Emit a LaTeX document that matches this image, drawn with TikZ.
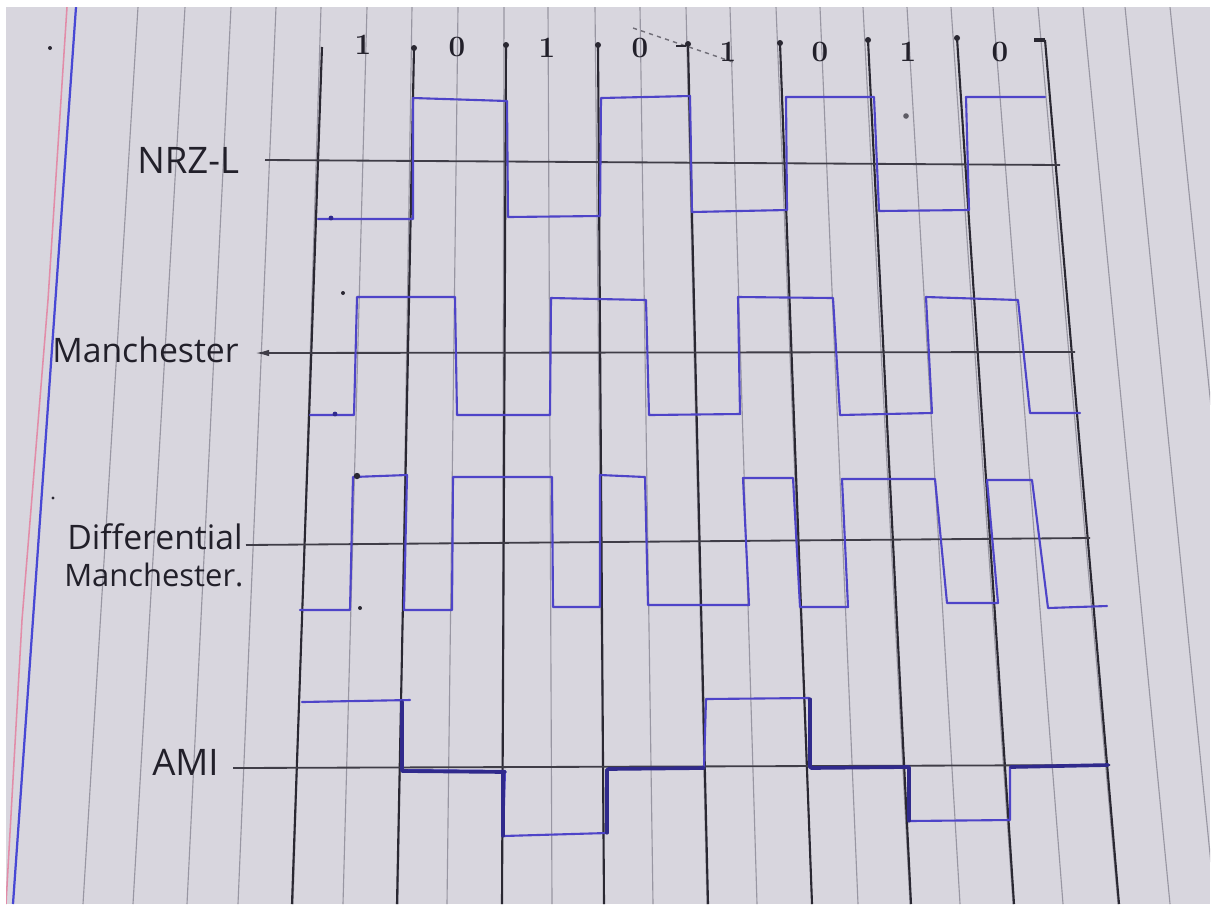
\documentclass[tikz,border=0pt]{standalone}
\usepackage{fontspec}
\newfontfamily\hand{Open Sans}
\usetikzlibrary{arrows.meta}
\definecolor{paper}{RGB}{216,214,222}
\definecolor{ruledcol}{RGB}{152,150,162}
\definecolor{pencil}{RGB}{42,40,50}
\definecolor{ink}{RGB}{78,68,200}
\definecolor{darkink}{RGB}{48,42,140}
\definecolor{marginblue}{RGB}{72,72,212}
\definecolor{marginpink}{RGB}{226,140,168}
\definecolor{textcol}{RGB}{34,32,42}
\tikzset{
  ruled/.style={draw=ruledcol, line width=0.8pt},
  bitline/.style={draw=pencil, line width=1.5pt},
  baseln/.style={draw=pencil!90!white, line width=1.3pt},
  sig/.style={draw=ink, line width=1.5pt, line join=round, line cap=round},
  zeroln/.style={draw=darkink, line width=2.6pt, line cap=round},
  lbl/.style={text=textcol, inner sep=0pt, anchor=west},
  digit/.style={text=textcol, inner sep=0pt, font=\fontsize{21}{23}\selectfont\bfseries},
}
\begin{document}
\begin{tikzpicture}[x=0.025cm,y=-0.025cm]
\useasboundingbox (0,0) rectangle (1214,904);
\fill[white] (0,0) rectangle (1214,904);
\fill[paper] (6,7) rectangle (1210,904);
\begin{scope}
  \clip (6,7) rectangle (1210,904);
  \foreach \a/\b in {138/83,185/133,231/187,276/238,321/293,367/343,412/398,
      458/447,504/502,548/552,595/604,640/653,686/707,730/757,776/812,820/858,
      863/910,907/960,951/1013,993/1063,1038/1118,1083/1170,1125/1215,1170/1262}
    \draw[ruled] (\a,7) -- (\b,904);
  \draw[draw=marginpink, line width=1.1pt] (67,7) -- (48,300) -- (22,620) -- (6,904);
  \draw[draw=marginblue, line width=1.6pt] (76,7) -- (13,904);
\end{scope}

% bit boundary lines
\foreach \i/\tx/\ty/\bx in {0/322/47/292,1/414/48/397,2/506/45/502,3/598/45/604,
    4/688/44/708,5/780/43/812,6/868/40/911,7/957/38/1014,8/1045/40/1119}{
  \coordinate (t\i) at (\tx,\ty);
  \coordinate (b\i) at (\bx,904);
  \draw[bitline] (t\i) -- (b\i);
}
\foreach \i in {1,...,7} \fill[pencil] (t\i) circle (0.075cm);
\coordinate (hook) at (1034,40);
\draw[bitline, line width=2.2pt] (hook) -- (t8);
\coordinate (sm1) at (633,28); \coordinate (sm2) at (736,63);
\draw[pencil!60!paper, dashed, line width=1pt] (sm1) -- (sm2);
\coordinate (sm3) at (676,46); \coordinate (sm4) at (686,46);
\draw[pencil, line width=2pt] (sm3) -- (sm4);

% bit labels
\node[digit] (d1) at (363,45) {1};
\node[digit] (d2) at (457,47) {0};
\node[digit] (d3) at (547,48) {1};
\node[digit] (d4) at (640,48) {0};
\node[digit] (d5) at (728,52) {1};
\node[digit] (d6) at (820,52) {0};
\node[digit] (d7) at (908,52) {1};
\node[digit] (d8) at (1000,52) {0};

% row labels
\node[lbl] (lnrz) at (137,160) {\hand\fontsize{26}{30}\selectfont NRZ-L};
\node[lbl] (lman) at (52,350) {\hand\fontsize{24}{28}\selectfont Manchester};
\node[lbl] (ldif1) at (67,537) {\hand\fontsize{24}{28}\selectfont Differential};
\node[lbl] (ldif2) at (64,575) {\hand\fontsize{22}{26}\selectfont Manchester.};
\node[lbl] (lami) at (152,762) {\hand\fontsize{26}{30}\selectfont AMI};

% zero lines
\coordinate (nrzA) at (265,160); \coordinate (nrzB) at (1060,165);
\coordinate (manA) at (255,353); \coordinate (manB) at (1075,352);
\coordinate (difA) at (246,545); \coordinate (difB) at (1090,538);
\coordinate (amiA) at (233,768); \coordinate (amiB) at (1110,765);
\draw[baseln] (nrzA) -- (nrzB);
\draw[baseln, {Latex[length=3.5mm,width=1.6mm]}-] (manA) -- (manB);
\draw[baseln] (difA) -- (difB);
\draw[baseln] (amiA) -- (amiB);

% NRZ-L
\draw[sig] (318,219) -- (413,219) -- (413,98) -- (507,101) -- (508,217)
  -- (600,216) -- (601,98) -- (690,96) -- (692,212) -- (787,210) -- (786,97)
  -- (874,97) -- (879,211) -- (969,210) -- (966,97) -- (1045,97);

% Manchester
\draw[sig] (310,415) -- (354,415) -- (357,297) -- (455,297) -- (457,415)
  -- (550,415) -- (551,298) -- (646,300) -- (649,415) -- (740,414) -- (738,297)
  -- (833,298) -- (840,415) -- (932,413) -- (926,297) -- (1018,300)
  -- (1030,413) -- (1080,413);

% Differential Manchester
\draw[sig] (300,610) -- (350,610) -- (353,477) -- (407,475) -- (404,610)
  -- (452,610) -- (453,477) -- (552,477) -- (553,607) -- (600,607) -- (600,475)
  -- (645,477) -- (648,605) -- (749,605) -- (743,478) -- (793,478) -- (800,607)
  -- (848,607) -- (842,479) -- (935,479) -- (947,603) -- (998,603) -- (987,480)
  -- (1032,480) -- (1048,608) -- (1107,606);

% AMI
\draw[sig] (302,702) -- (410,700);
\draw[sig] (402,700) -- (402,770) -- (505,771) -- (503,836) -- (607,833)
  -- (607,769) -- (704,768) -- (706,699) -- (809,698) -- (810,768) -- (909,767)
  -- (909,821) -- (1010,820) -- (1010,767) -- (1108,765);
\draw[zeroln] (402,771) -- (505,772);
\draw[zeroln] (608,769) -- (704,768);
\draw[zeroln] (811,768) -- (909,767);
\draw[zeroln] (1011,767) -- (1108,765);
\draw[zeroln, line width=2.2pt] (402,702) -- (402,770);
\draw[zeroln, line width=2.2pt] (503,772) -- (503,836);
\draw[zeroln, line width=2.2pt] (607,833) -- (607,770);
\draw[zeroln, line width=2.2pt] (810,699) -- (810,767);
\draw[zeroln, line width=2.2pt] (909,768) -- (909,821);

% specks and ink dots
\fill[pencil] (50,48) circle (0.05cm);
\fill[pencil] (343,293) circle (0.05cm);
\fill[pencil!70!paper] (906,116) circle (0.07cm);
\fill[pencil] (53,498) circle (0.04cm);
\fill[darkink] (331,218) circle (0.06cm);
\fill[darkink] (335,414) circle (0.06cm);
\fill[pencil] (357,476) circle (0.08cm);
\fill[pencil] (360,608) circle (0.05cm);
\end{tikzpicture}
\end{document}
